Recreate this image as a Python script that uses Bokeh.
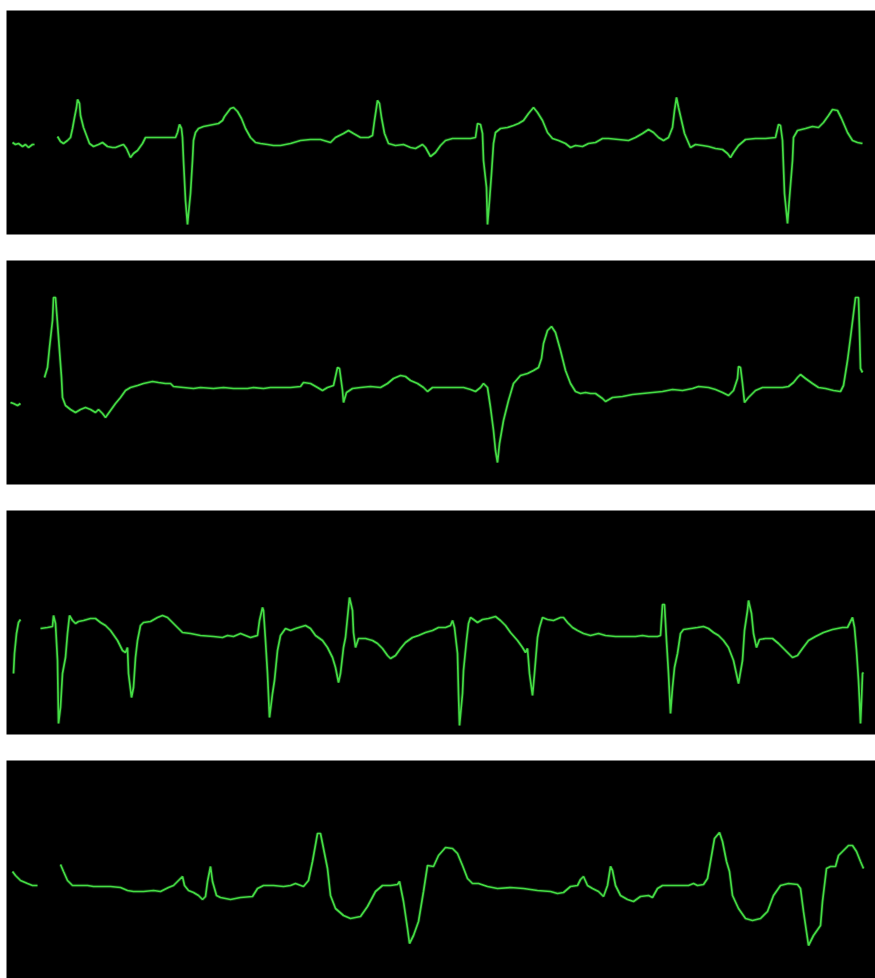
import numpy as np
from bokeh.plotting import figure
from bokeh.layouts import column
from bokeh.models import Range1d, ColumnDataSource
from bokeh.embed import file_html
from bokeh.resources import INLINE

NaN = float("nan")

# ---- Strip 1 (sample index, amplitude) ----
t1 = [12, 15, 18, 22, 25, 28, 32, 34, NaN,
      57, 60, 63, 67, 70, 72, 74, 76, 77, 79, 80, 83, 86, 89, 93, 98, 102, 107, 112, 115,
      120, 123, 126, 130, 133, 137, 142, 145, 175, 177, 179, 181, 182, 183, 185, 187, 188,
      190, 192, 193, 195, 198, 203, 208, 213, 218, 222, 224, 227, 230, 233, 237, 241, 245,
      250, 255, 260, 267, 273, 280, 290, 300, 310, 320, 330, 335, 343, 348, 353, 360, 368,
      372, 374, 377, 379, 381, 384, 388, 395, 403, 410, 415, 422, 425, 430, 435, 440, 445,
      452, 460, 470, 475, 477, 480, 482, 483, 486, 487, 489, 491, 493, 495, 500, 507, 513,
      518, 523, 528, 533, 537, 542, 547, 552, 558, 565, 570, 575, 582, 588, 595, 602, 608,
      618, 628, 635, 642, 648, 653, 658, 663, 668, 672, 674, 676, 678, 681, 684, 690, 695,
      702, 708, 715, 722, 727, 730, 733, 738, 745, 755, 765, 775, 778, 780, 782, 784, 787,
      789, 792, 793, 797, 805, 812, 818, 823, 828, 832, 837, 841, 847, 852, 857, 862]
v1 = [-20, -22, -21, -24, -22, -25, -22, -22, NaN,
      -14, -19, -21, -18, -15, -6, 5, 15, 23, 19, 7, -5, -13, -21, -24, -22, -20, -24, -25, -25,
      -23, -22, -26, -35, -31, -28, -21, -15, -15, -10, -2, -6, -15, -38, -78, -102, -91,
      -71, -38, -18, -10, -6, -4, -3, -2, -1, 2, 6, 10, 14, 15, 11, 4, -6,
      -15, -20, -21, -22, -23, -23, -21, -18, -17, -17, -20, -15, -11, -8, -11, -15, -15,
      -13, 2, 22, 19, 5, -11, -21, -23, -22, -25, -26, -22, -25, -34, -30, -23, -18,
      -16, -16, -16, -15, -1, -2, -11, -38, -65, -102, -78, -51, -21, -10, -6, -5, -3,
      -1, 2, 9, 15, 10, 2, -10, -16, -18, -21, -25, -23, -24, -21, -20, -16, -16,
      -17, -18, -15, -11, -7, -10, -15, -18, -15, -5, 12, 25, 15, 2, -11, -25, -22,
      -23, -24, -26, -27, -31, -35, -30, -23, -17, -16, -16, -15, -2, -3, -18, -71, -101,
      -75, -38, -15, -8, -6, -4, -5, 0, 7, 13, 12, 4, -10, -18, -20, -21]

# ---- Strip 2 ----
t2 = [10, 13, 17, 20, NaN,
      44, 47, 49, 52, 53, 55, 57, 59, 61, 62, 65, 70, 75, 80, 85, 90, 95, 98, 102, 105,
      110, 115, 120, 125, 130, 137, 143, 152, 158, 165, 170, 173, 183, 193, 200, 213, 223,
      233, 247, 253, 263, 270, 283, 290, 300, 303, 310, 317, 322, 327, 333, 337, 339, 342,
      343, 346, 352, 360, 370, 380, 387, 393, 400, 405, 410, 417, 423, 427, 432, 440, 450,
      463, 470, 475, 480, 483, 487, 490, 493, 495, 497, 499, 503, 508, 513, 520, 527, 533,
      538, 541, 543, 547, 551, 555, 560, 565, 570, 575, 580, 585, 590, 595, 602, 605, 612,
      622, 632, 642, 652, 662, 672, 682, 692, 698, 708, 715, 722, 728, 733, 737, 738, 740,
      742, 744, 748, 755, 762, 772, 782, 788, 793, 797, 800, 805, 812, 818, 825, 833, 840,
      843, 847, 850, 853, 855, 858, 859, 860, 862]
v2 = [-30, -31, -33, -31, NaN,
      -5, 5, 25, 52, 75, 75, 49, 22, -5, -25, -33, -37, -40, -37, -35, -37, -40, -37, -41, -45,
      -38, -31, -25, -18, -15, -13, -11, -9, -10, -11, -11, -14, -15, -16, -15, -16, -15,
      -16, -16, -15, -16, -15, -15, -15, -14, -10, -11, -15, -18, -15, -13, 5, 4, -18,
      -30, -20, -16, -15, -14, -15, -11, -6, -3, -4, -8, -11, -15, -19, -15, -15, -15,
      -15, -17, -19, -15, -11, -15, -35, -58, -78, -90, -71, -48, -28, -11, -3, -1, 2,
      5, 14, 29, 42, 46, 40, 22, 2, -11, -19, -21, -20, -21, -21, -26, -29, -25,
      -24, -22, -21, -20, -19, -17, -18, -16, -14, -15, -17, -20, -23, -18, -6, 6, 5,
      -11, -30, -25, -18, -15, -15, -15, -14, -10, -5, -2, -6, -11, -15, -16, -18, -19,
      -13, 12, 35, 59, 75, 75, 42, 4, 0]

# ---- Strip 3 ----
t3 = [13, 14, 16, 18, 20, NaN,
      40, 47, 52, 53, 55, 57, 58, 60, 62, 65, 67, 69, 72, 75, 78, 83, 90, 95, 100, 105,
      110, 117, 122, 125, 127, 128, 131, 133, 135, 137, 140, 143, 150, 157, 162, 167, 172,
      177, 182, 190, 200, 213, 222, 227, 233, 240, 245, 250, 257, 259, 262, 263, 265, 267,
      269, 272, 274, 277, 280, 285, 290, 295, 305, 310, 315, 322, 327, 332, 335, 338, 340,
      343, 345, 347, 349, 352, 353, 355, 358, 365, 372, 377, 382, 387, 390, 395, 400, 405,
      412, 418, 425, 432, 438, 445, 450, 452, 454, 457, 458, 459, 462, 463, 466, 468, 470,
      473, 477, 482, 488, 495, 500, 505, 510, 517, 522, 525, 527, 529, 532, 534, 537, 539,
      542, 547, 553, 560, 563, 567, 572, 577, 583, 590, 598, 605, 615, 625, 635, 642, 648,
      657, 660, 662, 664, 666, 668, 670, 672, 674, 677, 680, 683, 690, 697, 703, 708, 713,
      718, 723, 728, 733, 738, 742, 744, 747, 748, 751, 753, 756, 759, 765, 772, 778, 785,
      792, 797, 802, 808, 815, 823, 832, 842, 847, 850, 852, 854, 856, 858, 859, 860, 861,
      862, 863]
v3 = [-51, -31, -11, 0, 3, NaN,
      -6, -5, -4, 7, -1, -38, -101, -85, -51, -35, -11, 7, 2, -1, 1, 2, 4, 4, 0, -3,
      -8, -18, -28, -30, -25, -51, -75, -65, -35, -18, -3, 0, 1, 5, 7, 5, 0,
      -5, -10, -11, -13, -14, -15, -13, -14, -11, -13, -15, -13, 2, 15, 12, -18, -51,
      -95, -71, -58, -28, -13, -6, -8, -6, -3, -6, -13, -18, -25, -35, -45, -60, -51,
      -25, -15, 5, 25, 12, -10, -25, -16, -16, -18, -21, -26, -33, -36, -33, -26, -20,
      -15, -13, -10, -8, -5, -5, -3, 2, -5, -31, -71, -103, -71, -48, -18, -1, 5,
      3, 0, 3, 4, 6, 2, -3, -10, -18, -25, -30, -26, -51, -73, -51, -15, -5,
      5, 3, 2, 5, 5, 0, -5, -8, -11, -13, -11, -13, -14, -14, -14, -13, -14,
      -14, -13, 18, 18, -18, -51, -91, -65, -45, -31, -11, -7, -6, -5, -4, -6, -10,
      -13, -18, -25, -38, -61, -38, -8, 12, 22, 9, -11, -25, -17, -16, -16, -21, -28,
      -35, -33, -26, -18, -14, -10, -7, -5, -5, 1, 5, -5, -28, -58, -78, -101, -78,
      -51, -50]

# ---- Strip 4 ----
t4 = [12, 15, 20, 27, 32, 37, NaN,
      60, 63, 67, 72, 80, 87, 93, 100, 110, 120, 127, 133, 143, 153, 160, 168, 173, 178,
      182, 184, 188, 193, 198, 202, 205, 207, 210, 212, 216, 220, 230, 240, 252, 257, 263,
      273, 283, 290, 295, 303, 308, 312, 317, 320, 323, 327, 330, 335, 343, 350, 360, 367,
      375, 382, 390, 397, 399, 403, 407, 409, 413, 418, 423, 427, 433, 438, 445, 452, 457,
      462, 467, 472, 478, 487, 497, 510, 523, 537, 550, 557, 563, 570, 577, 580, 583, 587,
      592, 598, 603, 607, 610, 612, 615, 620, 627, 633, 640, 648, 652, 657, 662, 675, 688,
      693, 697, 703, 707, 710, 714, 719, 722, 726, 729, 732, 738, 745, 752, 760, 767, 773,
      780, 788, 797, 800, 803, 808, 813, 820, 822, 826, 830, 835, 838, 843, 848, 852, 856,
      860, 863]
v4 = [1, -3, -8, -11, -13, -13, NaN,
      8, 1, -8, -13, -13, -13, -14, -14, -14, -15, -18, -19, -19, -18, -19, -15, -13, -8,
      -4, -13, -18, -20, -23, -27, -24, -9, 6, -9, -23, -25, -27, -25, -24, -16, -13,
      -13, -14, -13, -11, -14, -8, 11, 39, 39, 24, 4, -23, -36, -43, -46, -44, -34,
      -19, -13, -13, -12, -9, -29, -56, -71, -63, -49, -19, 7, 6, 17, 25, 24, 19,
      7, -6, -11, -11, -14, -16, -15, -16, -18, -19, -21, -20, -14, -13, -7, -4, -13,
      -16, -19, -24, -13, 6, 2, -13, -23, -27, -29, -24, -23, -25, -16, -13, -13, -13,
      -11, -13, -12, -6, 11, 34, 40, 31, 11, 1, -23, -36, -46, -48, -46, -39, -23,
      -13, -11, -12, -16, -39, -73, -63, -53, -29, 4, 6, 6, 17, 22, 27, 27, 21,
      11, 4]

TRACE = "#45dd45"


def strip(t, v, top, frame_h, bottom, ylo, yhi):
    p = figure(width=875, height=top + frame_h + bottom, output_backend="svg",
               toolbar_location=None, x_axis_location=None, y_axis_location=None,
               x_range=Range1d(6, 875), y_range=Range1d(ylo, yhi),
               min_border_left=6, min_border_right=0,
               min_border_top=top, min_border_bottom=bottom)
    p.background_fill_color = "black"
    p.border_fill_color = "white"
    p.outline_line_color = None
    p.grid.visible = False
    src = ColumnDataSource(dict(t=np.array(t, dtype=float), v=np.array(v, dtype=float)))
    p.line("t", "v", source=src, line_color=TRACE, line_width=3.4, line_alpha=0.22)
    p.line("t", "v", source=src, line_color=TRACE, line_width=1.7)
    return p


p1 = strip(t1, v1, 10, 224, 26, -112, 112)
p2 = strip(t2, v2, 0, 224, 26, -112, 112)
p3 = strip(t3, v3, 0, 224, 26, -112, 112)
p4 = strip(t4, v4, 0, 218, 0, -106, 112)

layout = column(p1, p2, p3, p4, spacing=0)
open("out.html", "w").write(file_html(layout, INLINE))
